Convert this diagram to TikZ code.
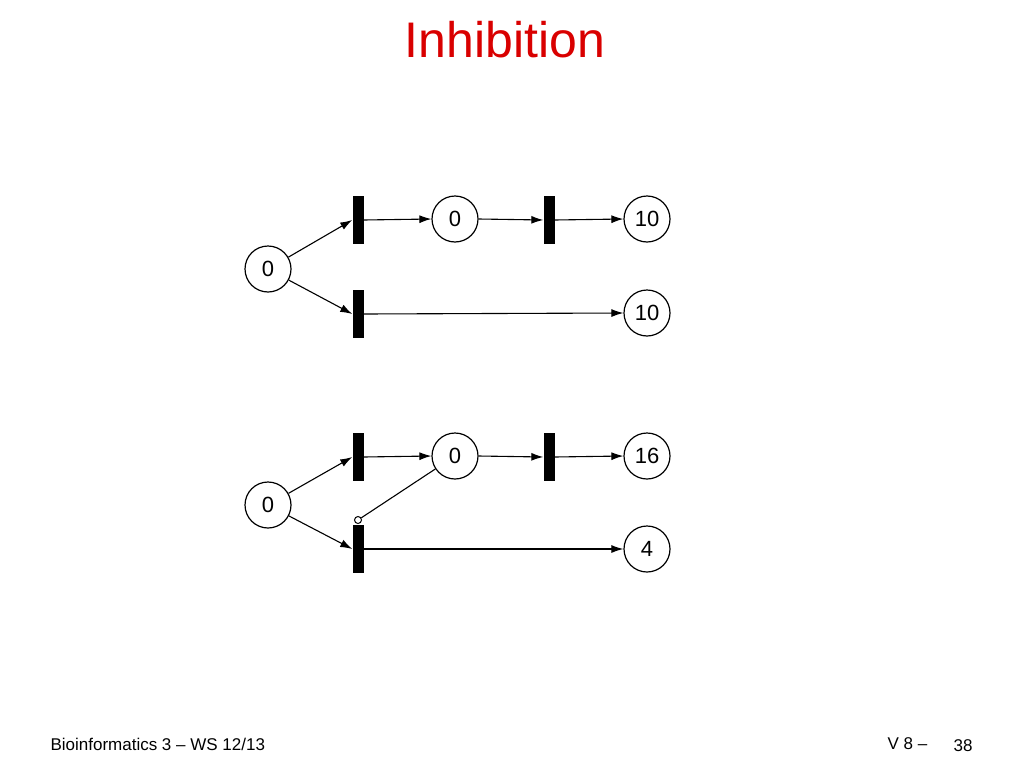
\documentclass[tikz,border=0pt]{standalone}
\usepackage{fontspec}
\setmainfont{Liberation Sans}
\usetikzlibrary{arrows.meta}
\begin{document}
\begin{tikzpicture}[x=1pt,y=-1pt,
  place/.style={circle,draw,line width=1.2pt,minimum size=46pt,inner sep=0pt,font=\fontsize{22}{22}\selectfont},
  trans/.style={fill=black,minimum width=11pt,minimum height=48pt,inner sep=0pt},
  arc/.style={-{Latex[length=12pt,width=8pt]},line width=1.1pt}]
\useasboundingbox (0,0) rectangle (1024,768);
\node[text=red!85!black,font=\fontsize{50}{50}\selectfont] (title) at (505,40) {Inhibition};
% top net
\node[place] (a0) at (268,269) {0};
\node[trans] (a1) at (358,220) {};
\node[trans] (a2) at (358,314) {};
\node[place] (a3) at (455,219) {0};
\node[trans] (a4) at (549,220) {};
\node[place] (a5) at (647,219) {10};
\node[place] (a6) at (647,313) {10};
\draw[arc] (a0) -- (a1.west);
\draw[arc] (a0) -- (a2.west);
\draw[arc] (a1.east) -- (a3.west);
\draw[arc] (a3.east) -- (a4.west);
\draw[arc] (a4.east) -- (a5.west);
\draw[arc] (a2.east) -- (a6.west);
% bottom net
\node[place] (b0) at (268,505) {0};
\node[trans] (b1) at (358,457) {};
\node[trans] (b2) at (358,549) {};
\node[place] (b3) at (455,456) {0};
\node[trans] (b4) at (549,457) {};
\node[place] (b5) at (647,456) {16};
\node[place] (b6) at (647,549) {4};
\draw[arc] (b0) -- (b1.west);
\draw[arc] (b0) -- (b2.west);
\draw[arc] (b1.east) -- (b3.west);
\draw[arc] (b3.east) -- (b4.west);
\draw[arc] (b4.east) -- (b5.west);
\draw[arc] (b2.east) -- (b6.west);
\node[circle,draw,line width=1pt,minimum size=7pt,inner sep=0pt] (inh) at (358,520) {};
\draw[line width=1.1pt] (b3) -- (inh);
% footer
\node[anchor=west,font=\fontsize{17}{17}\selectfont] (f1) at (47,744) {Bioinformatics 3 – WS 12/13};
\node[anchor=west,font=\fontsize{17}{17}\selectfont] (f2) at (884,744) {V 8 –};
\node[anchor=west,font=\fontsize{17}{17}\selectfont] (f3) at (950,746) {38};
\end{tikzpicture}
\end{document}
